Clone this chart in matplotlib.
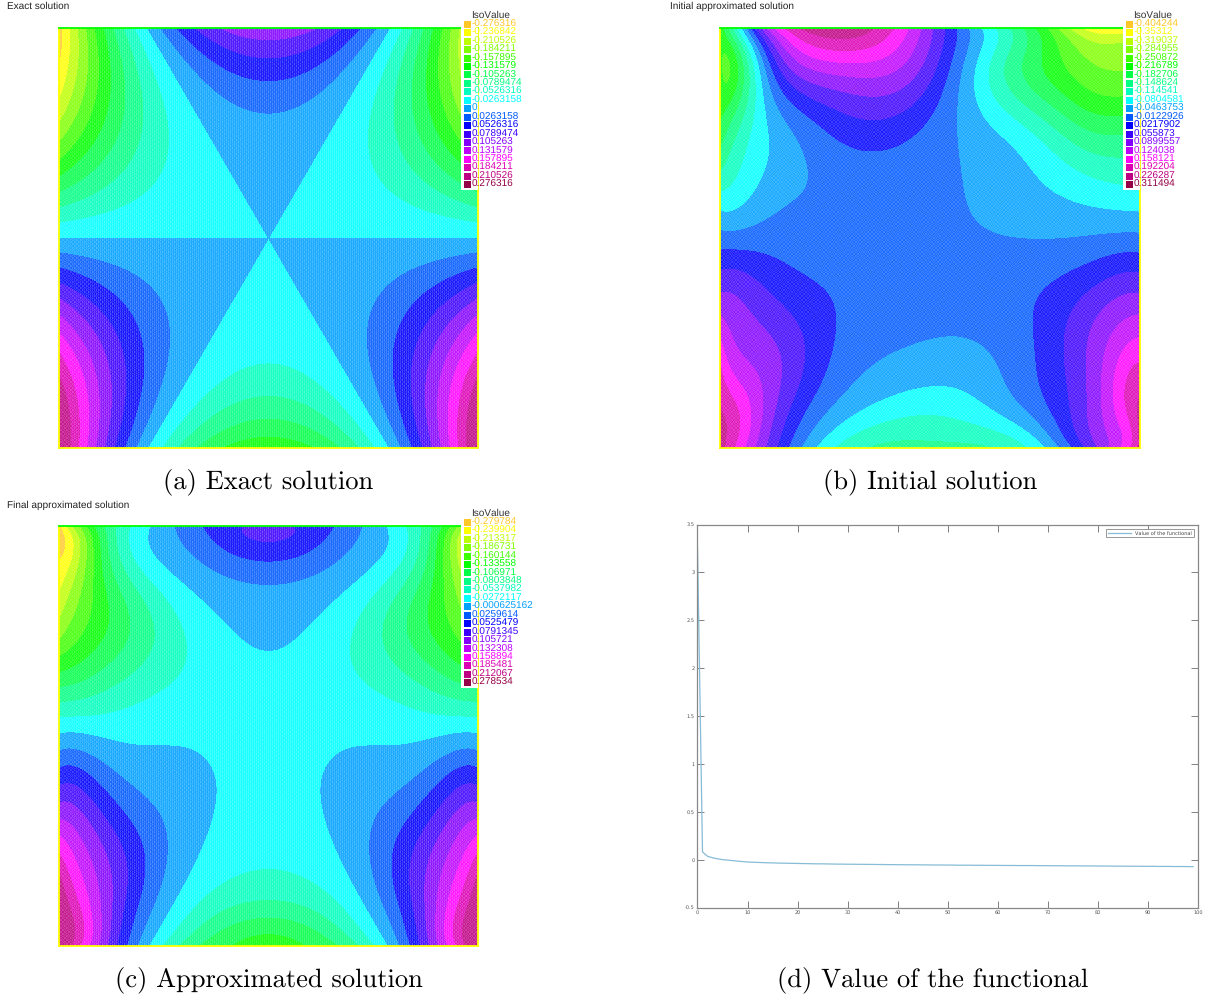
"""Four panel figure: three FreeFem style iso plots and the functional curve."""
import numpy as np
import matplotlib
matplotlib.use("Agg")
import matplotlib.pyplot as plt
import matplotlib.tri as mtri
from matplotlib.patches import Rectangle
from numpy.polynomial import chebyshev as cheb

plt.rcParams["text.hinting"] = "no_hinting"
plt.rcParams["text.hinting_factor"] = 1

W, H = 1207, 996

BAND_RGB = [
    (255, 200, 40), (255, 255, 0), (190, 255, 0), (128, 255, 0), (60, 255, 0),
    (0, 255, 0), (0, 255, 70), (0, 255, 130), (0, 255, 190), (0, 255, 255),
    (0, 160, 255), (0, 90, 255), (0, 0, 255), (60, 0, 255), (130, 0, 255),
    (190, 0, 255), (255, 0, 255), (220, 0, 180), (190, 0, 130), (150, 0, 70),
]

exact_labels = [
    "-0.276316", "-0.236842", "-0.210526", "-0.184211", "-0.157895",
    "-0.131579", "-0.105263", "-0.0789474", "-0.0526316", "-0.0263158",
    "0", "0.0263158", "0.0526316", "0.0789474", "0.105263",
    "0.131579", "0.157895", "0.184211", "0.210526", "0.276316",
]
initial_labels = [
    "-0.404244", "-0.35312", "-0.319037", "-0.284955", "-0.250872",
    "-0.216789", "-0.182706", "-0.148624", "-0.114541", "-0.0804581",
    "-0.0463753", "-0.0122926", "0.0217902", "0.055873", "0.0899557",
    "0.124038", "0.158121", "0.192204", "0.226287", "0.311494",
]
final_labels = [
    "-0.279784", "-0.239904", "-0.213317", "-0.186731", "-0.160144",
    "-0.133558", "-0.106971", "-0.0803848", "-0.0537982", "-0.0272117",
    "-0.000625162", "0.0259614", "0.0525479", "0.0791345", "0.105721",
    "0.132308", "0.158894", "0.185481", "0.212067", "0.278534",
]

# values read on a 13x13 grid, top row first; left half + centre column
# exact panel: top half down to the centre line, the lower half is its negative
exact_top = np.array([
    [-.250000, -.135417, -.041667, .031250, .083333, .114583, .125000],
    [-.240162, -.144676, -.066551, -.005787, .037616, .063657, .072338],
    [-.212963, -.136574, -.074074, -.025463, .009259, .030093, .037037],
    [-.171875, -.114583, -.067708, -.031250, -.005208, .010417, .015625],
    [-.120370, -.082176, -.050926, -.026620, -.009259, .001157, .004630],
    [-.061921, -.042824, -.027199, -.015046, -.006366, -.001157, .000579],
    [0, 0, 0, 0, 0, 0, 0],
])

final_half = np.array([
    [-.250, -.110, -.032, .014, .049, .073, .086],
    [-.240, -.135, -.036, -.002, .029, .044, .0505],
    [-.213, -.134, -.078, -.026, -.003, .012, .0215],
    [-.172, -.118, -.076, -.040, -.0185, -.002, .0075],
    [-.120, -.097, -.071, -.043, -.020, -.010, -.004],
    [-.055, -.044, -.030, -.020, -.0135, -.010, -.009],
    [.000, -.001, -.002, -.003, -.006, -.009, -.0115],
    [.060, .042, .012, .006, .002, -.003, -.013],
    [.105, .082, .046, .021, .006, -.004, -.016],
    [.172, .115, .068, .028, .002, -.012, -.0205],
    [.213, .135, .076, .025, -.010, -.024, -.035],
    [.240, .150, .070, .002, -.032, -.062, -.072],
    [.250, .143, .046, -.032, -.083, -.107, -.118],
])

initial_field = np.array([
    [-.200, .047, .213, .240, .245, .200, .077, .012, -.098, -.190, -.288, -.360, -.375],
    [-.210, -.070, .100, .150, .158, .136, .075, -.016, -.105, -.170, -.228, -.258, -.275],
    [-.200, -.085, .028, .070, .085, .075, .045, -.030, -.095, -.140, -.188, -.212, -.225],
    [-.172, -.072, -.022, .018, .040, .035, .012, -.018, -.046, -.078, -.130, -.155, -.165],
    [-.122, -.062, -.022, -.004, .006, .004, -.002, -.014, -.036, -.056, -.079, -.097, -.113],
    [-.060, -.032, -.008, -.004, -.001, -.001, -.004, -.011, -.019, -.029, -.044, -.054, -.060],
    [.000, -.002, -.003, -.004, -.005, -.005, -.006, -.008, -.012, -.014, -.013, -.008, -.004],
    [.060, .052, .029, .019, .008, .002, -.001, -.001, .003, .010, .022, .044, .055],
    [.113, .082, .054, .030, .006, -.002, -.006, -.005, .000, .024, .052, .095, .113],
    [.165, .105, .068, .028, .004, -.008, -.014, -.012, -.002, .024, .062, .115, .166],
    [.207, .130, .078, .020, -.014, -.030, -.040, -.035, -.018, .018, .062, .135, .210],
    [.229, .145, .050, -.012, -.050, -.072, -.079, -.068, -.047, -.002, .053, .130, .235],
    [.245, .124, .014, -.062, -.115, -.122, -.125, -.122, -.1145, -.064, .010, .112, .232],
])

functional = [
    3.27, 0.08, 0.035, 0.02, 0.008, 0.0, -0.005, -0.01, -0.016, -0.02,
    -0.025, -0.027, -0.029, -0.031, -0.033, -0.034, -0.036, -0.037, -0.038, -0.039,
    -0.040, -0.041, -0.042, -0.043, -0.044, -0.044, -0.045, -0.046, -0.047, -0.047,
    -0.048, -0.048, -0.049, -0.049, -0.050, -0.050, -0.051, -0.051, -0.052, -0.052,
    -0.053, -0.053, -0.054, -0.054, -0.054, -0.055, -0.055, -0.056, -0.056, -0.056,
    -0.057, -0.057, -0.058, -0.058, -0.058, -0.059, -0.059, -0.059, -0.060, -0.060,
    -0.060, -0.061, -0.061, -0.061, -0.062, -0.062, -0.062, -0.062, -0.063, -0.063,
    -0.063, -0.064, -0.064, -0.064, -0.065, -0.065, -0.065, -0.066, -0.066, -0.066,
    -0.067, -0.067, -0.067, -0.068, -0.068, -0.068, -0.069, -0.069, -0.069, -0.070,
    -0.070, -0.070, -0.071, -0.071, -0.071, -0.072, -0.072, -0.072, -0.073, -0.073,
]
x_ticks = list(range(0, 101, 10))
y_ticks = [-0.5, 0, 0.5, 1, 1.5, 2, 2.5, 3, 3.5]
y_tick_labels = ["-0.5", "0", "0.5", "1", "1.5", "2", "2.5", "3", "3.5"]

captions = ["(a) Exact solution", "(b) Initial solution",
            "(c) Approximated solution", "(d) Value of the functional"]


def mirror(half):
    return np.hstack([half, half[:, -2::-1]])


def smooth_surface(field, deg=9, n=421):
    """Least squares Chebyshev surface through the read values, so the contours come out round."""
    nodes = np.linspace(-1, 1, field.shape[0])
    rows = field[::-1]  # bottom row first
    coef = cheb.chebfit(nodes, cheb.chebfit(nodes, rows.T, deg).T, deg)
    fine = np.linspace(-1, 1, n)
    return (fine + 1) / 2, cheb.chebgrid2d(fine, fine, coef)


def px_axes(fig, left, top, right, bottom):
    return fig.add_axes([left / W, 1 - bottom / H, (right - left) / W, (bottom - top) / H])


def put(fig, x, y, s, **kw):
    fig.text(x / W, 1 - y / H, s, va="center", **kw)


def iso_panel(fig, box, field, labels, legend_x, legend_top, title, title_x, title_y):
    colors = [tuple(c / 255 for c in rgb) for rgb in BAND_RGB]
    left, top, right, bottom = box
    ax = px_axes(fig, left, top, right, bottom)

    fine, z = smooth_surface(field)
    values = [float(s) for s in labels]
    levels = [-1.0] + values[1:] + [1.0]
    ax.contourf(fine, fine, z, levels=levels, colors=colors)

    # the fine white mesh that washes the colours out a little
    mesh = np.linspace(0, 1, 211)
    mx, my = np.meshgrid(mesh, mesh)
    ax.triplot(mtri.Triangulation(mx.ravel(), my.ravel()), color="white", lw=0.14, alpha=0.5)

    ax.set_xlim(0, 1)
    ax.set_ylim(0, 1)
    ax.set_xticks([])
    ax.set_yticks([])
    ax.spines["top"].set_color("#00ff00")
    for side in ("left", "right", "bottom"):
        ax.spines[side].set_color("#ffff00")
    for side in ax.spines:
        ax.spines[side].set_linewidth(1.3)

    # legend, in figure pixels
    step = 8.44
    bg_bottom = legend_top + 19 * step + 5
    fig.add_artist(Rectangle(((legend_x - 3) / W, 1 - bg_bottom / H),
                             (right - legend_x + 3) / W, (bg_bottom - legend_top + 6) / H,
                             transform=fig.transFigure, facecolor="white", edgecolor="none", zorder=3))
    put(fig, legend_x + 27, legend_top - 8.5, "IsoValue", fontsize=7.1, color="#333333",
        family="Liberation Sans", ha="center", zorder=4)
    for i, (s, c) in enumerate(zip(labels, colors)):
        y = legend_top + i * step
        fig.add_artist(Rectangle((legend_x / W, 1 - (y + 3.5) / H), 7 / W, 7 / H,
                                 transform=fig.transFigure, facecolor=c, edgecolor="none", zorder=4))
        put(fig, legend_x + 7.5, y, s, fontsize=7.1, color=c, family="Liberation Sans", zorder=4)

    put(fig, title_x, title_y, title, fontsize=7.25, color="#222222", family="Liberation Sans")


def main():
    fig = plt.figure(figsize=(W / 100, H / 100), dpi=100)

    exact_half = np.vstack([exact_top, -exact_top[-2::-1]])
    iso_panel(fig, (59, 28, 478, 448), mirror(exact_half), exact_labels, 464, 24.3,
              "Exact solution", 7, 6.5)
    iso_panel(fig, (720, 28, 1140, 448), initial_field, initial_labels, 1126, 24.3,
              "Initial approximated solution", 669.5, 6.5)
    iso_panel(fig, (59, 526, 478, 946), mirror(final_half), final_labels, 464, 522.3,
              "Final approximated solution", 7, 505.5)

    ax = px_axes(fig, 697.5, 524.5, 1198, 907.5)
    ax.plot(range(len(functional)), functional, color="#86bcd6", lw=0.9,
            label="Value of the functional")
    ax.set_xlim(0, 100)
    ax.set_ylim(-0.5, 3.5)
    ax.set_xticks(x_ticks)
    ax.set_yticks(y_ticks)
    ax.set_yticklabels(y_tick_labels)
    ax.tick_params(direction="in", length=5, width=0.7, color="#808080", labelsize=3.6,
                   labelcolor="#555555", top=True, right=True, pad=2)
    for side in ax.spines:
        ax.spines[side].set_color("#888888")
        ax.spines[side].set_linewidth(0.9)
    leg = ax.legend(loc="upper right", fontsize=3.4, fancybox=False, framealpha=1,
                    edgecolor="#888888", borderaxespad=0.9, handlelength=5)
    leg.get_frame().set_linewidth(0.6)
    for t in leg.get_texts():
        t.set_color("#444444")

    cap_kw = dict(fontsize=19.1, family="cmr10", ha="center", color="black")
    put(fig, 268.5, 482.5, captions[0], **cap_kw)
    put(fig, 930, 482.5, captions[1], **cap_kw)
    put(fig, 269, 981, captions[2], **cap_kw)
    put(fig, 933, 981, captions[3], **cap_kw)

    fig.savefig("out.png", dpi=100)


if __name__ == "__main__":
    main()
